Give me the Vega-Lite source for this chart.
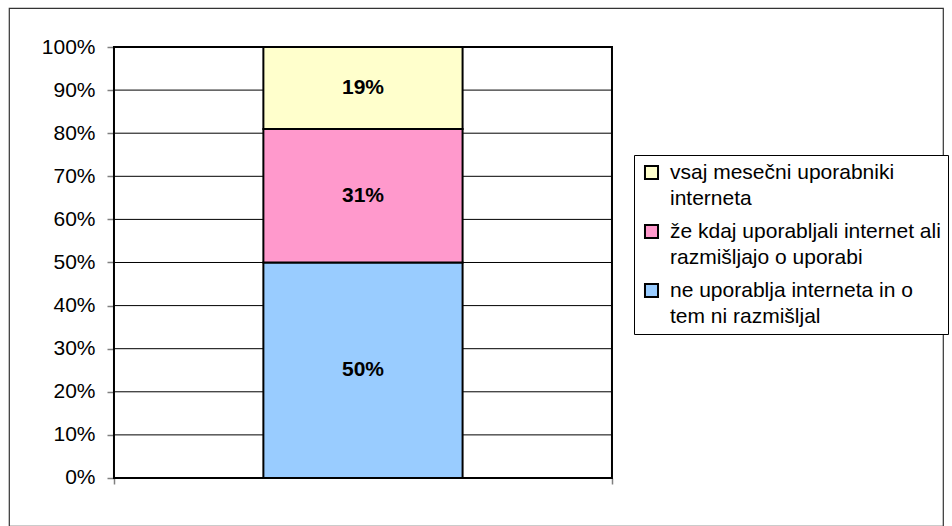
{
  "$schema": "https://vega.github.io/schema/vega-lite/v6.json",
  "width": 934,
  "height": 518,
  "autosize": {"type": "none"},
  "padding": {"left": 9, "top": 8, "right": 9, "bottom": 0},
  "background": "white",
  "config": {
    "view": {"stroke": "#333333", "strokeWidth": 1.2},
    "font": "Liberation Sans",
    "axisY": {"values": [0, 0.1, 0.2, 0.3, 0.4, 0.5, 0.6, 0.7, 0.8, 0.9, 1], "format": ".0%", "title": null, "domain": false, "grid": false, "offset": -105, "tickSize": 7, "tickColor": "#808080", "tickWidth": 1.5, "labelFontSize": 21, "labelColor": "black", "labelFont": "Liberation Sans", "labelPadding": 12},
    "axisX": {"values": [0, 1], "labels": false, "title": null, "domain": false, "grid": false, "offset": -48, "tickSize": 6, "tickColor": "#808080", "tickWidth": 1.5}
  },
  "layer": [
    {
      "data": {"values": [{"pct": 0.1}, {"pct": 0.2}, {"pct": 0.3}, {"pct": 0.4}, {"pct": 0.5}, {"pct": 0.6}, {"pct": 0.7}, {"pct": 0.8}, {"pct": 0.9}]},
      "mark": {"type": "rule", "color": "black", "strokeWidth": 1},
      "encoding": {
        "y": {
          "field": "pct", "type": "quantitative", "title": null,
          "scale": {"domain": [-0.1114, 1.0905], "nice": false, "zero": false},
          "axis": {"values": [0, 0.1, 0.2, 0.3, 0.4, 0.5, 0.6, 0.7, 0.8, 0.9, 1], "format": ".0%", "title": null}
        },
        "x": {
          "datum": 0, "type": "quantitative", "title": null,
          "scale": {"domain": [-0.2108, 1.6647], "nice": false, "zero": false},
          "axis": {"values": [0, 1], "labels": false, "title": null}
        },
        "x2": {"datum": 1}
      }
    },
    {
      "data": {"values": [
        {"cat": "ne uporablja interneta in o tem ni razmišljal", "value": 0.50, "order": 1},
        {"cat": "že kdaj uporabljali internet ali razmišljajo o uporabi", "value": 0.31, "order": 2},
        {"cat": "vsaj mesečni uporabniki interneta", "value": 0.19, "order": 3}
      ]},
      "transform": [
        {"stack": "value", "groupby": [], "sort": [{"field": "order", "order": "ascending"}], "as": ["y0", "y1"]}
      ],
      "mark": {"type": "bar", "stroke": "black", "strokeWidth": 2},
      "encoding": {
        "x": {"datum": 0.3, "type": "quantitative", "title": null},
        "x2": {"datum": 0.7},
        "y": {"field": "y0", "type": "quantitative", "title": null},
        "y2": {"field": "y1"},
        "color": {
          "field": "cat", "type": "nominal",
          "scale": {
            "domain": ["vsaj mesečni uporabniki interneta", "že kdaj uporabljali internet ali razmišljajo o uporabi", "ne uporablja interneta in o tem ni razmišljal"],
            "range": ["#FFFFCC", "#FF99CC", "#99CCFF"]
          },
          "legend": {
            "orient": "none", "legendX": 625, "legendY": 147,
            "title": null, "symbolType": "square", "symbolSize": 170,
            "symbolStrokeColor": "black", "symbolStrokeWidth": 2, "symbolOpacity": 1,
            "labelFontSize": 21, "labelFont": "Liberation Sans", "labelColor": "black", "labelLimit": 400,
            "strokeColor": "black", "fillColor": "white", "padding": 7, "rowPadding": 11, "labelOffset": 8,
            "labelExpr": "datum.value == 'vsaj mesečni uporabniki interneta' ? ['vsaj mesečni uporabniki', 'interneta'] : datum.value == 'že kdaj uporabljali internet ali razmišljajo o uporabi' ? ['že kdaj uporabljali internet ali', 'razmišljajo o uporabi'] : ['ne uporablja interneta in o', 'tem ni razmišljal']",
            "encode": {"labels": {"update": {"lineHeight": {"value": 26}}}}
          }
        }
      }
    },
    {
      "data": {"values": [
        {"cat": "ne uporablja interneta in o tem ni razmišljal", "value": 0.50, "order": 1},
        {"cat": "že kdaj uporabljali internet ali razmišljajo o uporabi", "value": 0.31, "order": 2},
        {"cat": "vsaj mesečni uporabniki interneta", "value": 0.19, "order": 3}
      ]},
      "transform": [
        {"stack": "value", "groupby": [], "sort": [{"field": "order", "order": "ascending"}], "as": ["y0", "y1"]},
        {"calculate": "(datum.y0 + datum.y1) / 2", "as": "mid"}
      ],
      "mark": {"type": "text", "font": "Liberation Sans", "fontSize": 21, "fontWeight": "bold", "color": "black", "baseline": "middle", "align": "center"},
      "encoding": {
        "x": {"datum": 0.5, "type": "quantitative", "title": null},
        "y": {"field": "mid", "type": "quantitative", "title": null},
        "text": {"field": "value", "type": "quantitative", "format": ".0%"}
      }
    },
    {
      "data": {"values": [{}]},
      "mark": {"type": "rect", "filled": false, "stroke": "black", "strokeWidth": 2},
      "encoding": {
        "x": {"datum": 0, "type": "quantitative", "title": null},
        "x2": {"datum": 1},
        "y": {"datum": 0, "type": "quantitative", "title": null},
        "y2": {"datum": 1}
      }
    }
  ]
}
